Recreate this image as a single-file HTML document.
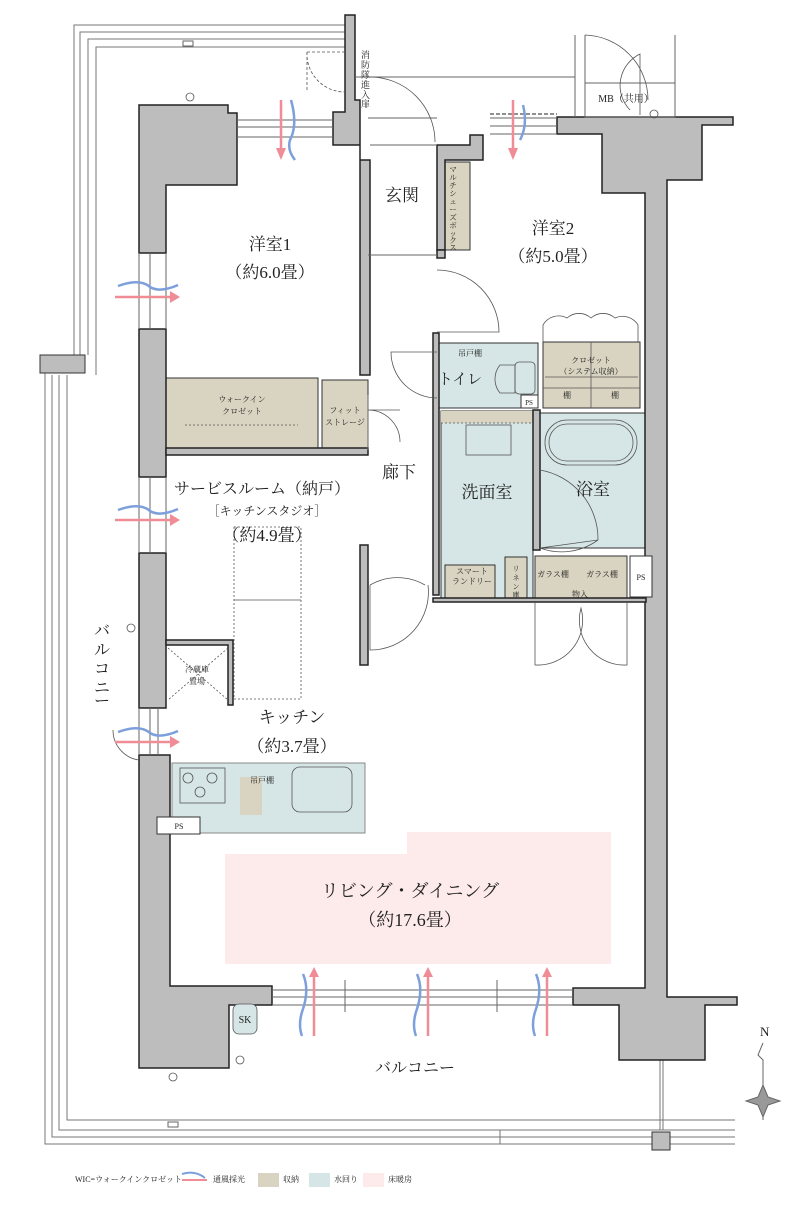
<!DOCTYPE html>
<html><head><meta charset="utf-8"><style>
body{margin:0;background:#fff}
svg{display:block}
text{font-family:"Liberation Serif","Noto Serif CJK SC",serif;fill:#222}
</style></head><body>
<svg width="800" height="1214" viewBox="0 0 800 1214" xmlns="http://www.w3.org/2000/svg">
<g fill="none" stroke="#777" stroke-width="1">
<path d="M345 25 H74 V355 M345 32 H80 V355 M345 39 H88 V355 M345 47 H96 V375"/>
<path d="M45 365 V1144 H735 M52 375 V1137 H735 M59 375 V1130 H735 M67 375 V1120 H735"/>
<path d="M500 1130 V1144"/>
<path d="M660 1005 V1130 M663 1005 V1130"/>
</g>
<rect x="40" y="355" width="45" height="18" fill="#bdbdbd" stroke="#333"/>
<rect x="652" y="1132" width="18" height="18" fill="#bdbdbd" stroke="#333"/>
<rect x="183" y="41" width="10" height="5" fill="none" stroke="#666"/>
<rect x="168" y="1122" width="10" height="5" fill="none" stroke="#666"/>
<rect x="166" y="378" width="152" height="70" fill="#d9d4c1" stroke="#333"/>
<rect x="322" y="380" width="46" height="68" fill="#d9d4c1" stroke="#333"/>
<rect x="437" y="162" width="33" height="88" fill="#d9d4c1" stroke="#333"/>
<rect x="543" y="342" width="97" height="66" fill="#d9d4c1" stroke="#333"/>
<rect x="437" y="343" width="101" height="65" fill="#d6e6e6" stroke="#333"/>
<rect x="441" y="411" width="92" height="188" fill="#d6e6e6" stroke="#333"/>
<rect x="441" y="411" width="92" height="12" fill="#d9d4c1"/>
<rect x="540" y="413" width="105" height="135" fill="#d6e6e6" stroke="#333"/>
<rect x="172" y="763" width="193" height="70" fill="#d6e6e6" stroke="#888"/>
<rect x="240" y="777" width="22" height="38" fill="#d9d4c1"/>
<rect x="445" y="565" width="50" height="33" fill="#d9d4c1" stroke="#333"/>
<rect x="505" y="557" width="22" height="42" fill="#d9d4c1" stroke="#333"/>
<rect x="535" y="556" width="92" height="44" fill="#d9d4c1" stroke="#333"/>
<path d="M225 854 H407 V832 H611 V964 H225Z" fill="#fdeaea"/>
<g fill="#bdbdbd" stroke="#222" stroke-width="1.5">
<path d="M139 105 H228 V113 H237 V185 H166 V253 H139Z"/>
<rect x="139" y="329" width="27" height="148"/>
<rect x="139" y="553" width="27" height="155"/>
<path d="M139 755 H170 V986 H272 V1005 H229 V1068 H139Z"/>
<path d="M333 112 H345 V15 H355 V100 H360 V160 H370 V375 H360 V145 H333Z"/>
<path d="M437 145 H470 V135 H483 V160 H445 V250 H437Z"/>
<path d="M557 117 H733 V125 H702 V180 H667 V997 H737 V1005 H705 V1060 H619 V1005 H573 V988 H645 V193 H602 V134 H557Z"/>
<rect x="166" y="448" width="202" height="7"/>
<rect x="437" y="250" width="8" height="8"/>
<rect x="433" y="333" width="6" height="262"/>
<rect x="533" y="410" width="7" height="140"/>
<rect x="360" y="545" width="8" height="120"/>
<rect x="433" y="598" width="213" height="4"/>
<path d="M166 640 H233 V705 H228 V645 H166Z"/>
</g>
<g fill="none" stroke="#666">
<path d="M237 120 H333 M237 127 H333 M237 137 H333"/>
<path d="M490 118 H557 M490 126 H557 M490 134 H557"/>
<path stroke="#222" stroke-dasharray="4 2" d="M490 114 H557"/>
<path d="M139 253 V329 M150 253 V329 M166 253 V329 M139 477 V553 M150 477 V553 M166 477 V553 M139 708 V755 M150 708 V755 M158 708 V755"/>
<path d="M272 990 H573 M272 997 H573 M272 1005 H573"/>
<path d="M345 980 V1012 M497 980 V1012"/>
<path d="M368 118 H437 M370 145 H437"/>
<path d="M355 77 H575 M575 35 V117"/>
<rect x="585" y="83" width="90" height="34"/>
<path d="M585 35 V83 M675 35 V83"/>
<path d="M368 395 V450 M368 255 H437"/>
</g>
<g fill="none" stroke="#555" stroke-width="0.8">
<path d="M370 77 A65 65 0 0 1 435 142"/>
<path d="M307 52 V92 M307 52 H345 M307 52 A38 38 0 0 0 345 92" stroke-dasharray="3 2"/>
<path d="M437 270 A62 62 0 0 1 499 332 H437"/>
<path d="M437 352 H391 A46 46 0 0 0 437 398"/>
<path d="M368 410 H400 M368 410 A32 32 0 0 1 400 442"/>
<path d="M370 585 A55 55 0 0 1 425 585 M370 585 V650 A58 58 0 0 0 428 585"/>
<path d="M540 548 A62 62 0 0 0 598 540 M540 548 L598 540 M540 470 A70 70 0 0 1 598 540"/>
<path d="M535 602 V665 A45 45 0 0 0 581 608 A45 45 0 0 0 627 665 V602"/>
<path d="M543 342 V325 A18 18 0 0 1 567 318 A18 18 0 0 1 591 318 A18 18 0 0 1 615 318 A18 18 0 0 1 638 325 V342"/>
<path d="M640 115 V54 A35 35 0 0 0 630 110"/>
<path d="M585 35 A65 65 0 0 1 648 100"/>
<path d="M113 730 A30 30 0 0 0 139 760"/>
</g>
<g fill="none" stroke="#555" stroke-width="0.8">
<rect x="545" y="420" width="92" height="45" rx="22"/>
<rect x="549" y="424" width="84" height="37" rx="18"/>
<rect x="466" y="425" width="45" height="30"/>
<path d="M441 423 H533" stroke-dasharray="2 2"/>
<path d="M500 365 A22 22 0 0 0 500 393 H515 V365Z"/>
<rect x="515" y="362" width="20" height="32" rx="4"/>
<rect x="180" y="768" width="45" height="35"/>
<circle cx="188" cy="778" r="5"/><circle cx="212" cy="778" r="5"/><circle cx="200" cy="792" r="5"/>
<rect x="292" y="767" width="60" height="45" rx="8"/>
<rect x="234" y="527" width="67" height="172" stroke-dasharray="2 2"/>
<path d="M234 600 H301"/>
<path d="M168 648 L228 700 M228 648 L168 700" stroke-dasharray="2 2"/>
<path d="M545 377 H638 M591 342 V408 M543 388 H640" />
<path d="M185 425 H298" stroke-dasharray="2 2"/>
<rect x="233" y="1004" width="24" height="30" rx="6" fill="#d6e6e6"/>
<circle cx="190" cy="97" r="4"/><circle cx="654" cy="114" r="4"/><circle cx="131" cy="628" r="4"/>
<circle cx="240" cy="1060" r="4"/><circle cx="173" cy="1077" r="4"/>
</g>
<rect x="157" y="817" width="43" height="17" fill="#fff" stroke="#333"/>
<rect x="630" y="556" width="22" height="41" fill="#fff" stroke="#333"/>
<rect x="521" y="395" width="17" height="13" fill="#fff" stroke="#333"/>
<g stroke-width="2.5" fill="none">
<path d="M115 297 H170" stroke="#f08c96"/><path d="M118 286 Q140 278 150 287 Q160 293 178 285" stroke="#7da0dc"/>
<path d="M115 520 H170" stroke="#f08c96"/><path d="M118 510 Q140 502 150 511 Q160 517 178 509" stroke="#7da0dc"/>
<path d="M115 742 H170" stroke="#f08c96"/><path d="M118 732 Q140 724 150 733 Q160 739 178 731" stroke="#7da0dc"/>
<path d="M281 100 V150" stroke="#f08c96"/><path d="M291 100 Q298 125 290 140 Q287 150 295 160" stroke="#7da0dc"/>
<path d="M513 100 V150" stroke="#f08c96"/><path d="M523 105 Q528 125 520 140" stroke="#7da0dc"/>
<path d="M314 975 V1036" stroke="#f08c96"/><path d="M303 974 Q310 990 302 1012 Q298 1025 302 1036" stroke="#7da0dc"/>
<path d="M428 975 V1036" stroke="#f08c96"/><path d="M417 974 Q424 990 416 1012 Q412 1025 416 1036" stroke="#7da0dc"/>
<path d="M547 975 V1036" stroke="#f08c96"/><path d="M536 974 Q543 990 535 1012 Q531 1025 535 1036" stroke="#7da0dc"/>
</g>
<g fill="#f08c96">
<path d="M170 291 L180 297 L170 303Z"/><path d="M170 514 L180 520 L170 526Z"/><path d="M170 736 L180 742 L170 748Z"/>
<path d="M276 148 L281 160 L286 148Z"/><path d="M508 148 L513 160 L518 148Z"/>
<path d="M309 977 L314 967 L319 977Z"/><path d="M423 977 L428 967 L433 977Z"/><path d="M542 977 L547 967 L552 977Z"/>
</g>
<g stroke="#666" fill="#999">
<path d="M763 1043 L758 1055 L763 1060 V1120" fill="none"/>
<path d="M763 1085 L768 1097 L780 1101 L768 1105 L763 1117 L758 1105 L746 1101 L758 1097Z"/>
</g>
<text x="270" y="250" font-size="17" text-anchor="middle">洋室1</text>
<text x="270" y="278" font-size="17" text-anchor="middle">（約6.0畳）</text>
<text x="402" y="201" font-size="17" text-anchor="middle">玄関</text>
<text x="553" y="234" font-size="17" text-anchor="middle">洋室2</text>
<text x="553" y="262" font-size="17" text-anchor="middle">（約5.0畳）</text>
<text x="399" y="478" font-size="17" text-anchor="middle">廊下</text>
<text x="487" y="498" font-size="17" text-anchor="middle">洗面室</text>
<text x="593" y="495" font-size="17" text-anchor="middle">浴室</text>
<text x="262" y="494" font-size="16" text-anchor="middle">サービスルーム（納戸）</text>
<text x="267" y="515" font-size="12" text-anchor="middle">［キッチンスタジオ］</text>
<text x="267" y="541" font-size="17" text-anchor="middle">（約4.9畳）</text>
<text x="292" y="723" font-size="17" text-anchor="middle">キッチン</text>
<text x="292" y="752" font-size="17" text-anchor="middle">（約3.7畳）</text>
<text x="410" y="897" font-size="18" text-anchor="middle">リビング・ダイニング</text>
<text x="410" y="926" font-size="18" text-anchor="middle">（約17.6畳）</text>
<text x="415" y="1073" font-size="16" text-anchor="middle">バルコニー</text>
<text x="460" y="384" font-size="15" text-anchor="middle">トイレ</text>
<g font-size="16"><text x="94" y="636">バ</text><text x="94" y="655">ル</text><text x="94" y="674">コ</text><text x="94" y="693">ニ</text><text x="94" y="706">ー</text></g>
<g font-size="8" text-anchor="middle">
<text x="242" y="402">ウォークイン</text><text x="242" y="414">クロゼット</text>
<text x="345" y="413">フィット</text><text x="345" y="425">ストレージ</text>
<text x="591" y="363">クロゼット</text><text x="591" y="374">（システム収納）</text>
<text x="567" y="398">棚</text><text x="615" y="398">棚</text>
<text x="470" y="356">吊戸棚</text>
<text x="529" y="405" font-size="7">PS</text>
<text x="472" y="574">スマート</text><text x="472" y="584">ランドリー</text>
<text x="553" y="577">ガラス棚</text><text x="602" y="577">ガラス棚</text>
<text x="580" y="597">物入</text>
<text x="641" y="580">PS</text>
<text x="179" y="829">PS</text>
<text x="197" y="672">冷蔵庫</text><text x="197" y="684">置場</text>
<text x="262" y="783">吊戸棚</text>
<text x="626" y="102" font-size="10">MB（共用）</text>
<text x="245" y="1023" font-size="10">SK</text>
</g>
<g font-size="7" text-anchor="middle">
<text x="516" y="571">リ</text><text x="516" y="580">ネ</text><text x="516" y="589">ン</text><text x="516" y="597">庫</text>
</g>
<g font-size="9">
<text x="361" y="58">消</text><text x="361" y="68">防</text><text x="361" y="78">隊</text><text x="361" y="88">進</text><text x="361" y="98">入</text><text x="361" y="107">扉</text>
</g>
<g font-size="7.5" text-anchor="middle">
<text x="453" y="172">マ</text><text x="453" y="180">ル</text><text x="453" y="188">チ</text><text x="453" y="196">シ</text><text x="453" y="204">ュ</text><text x="453" y="212">ー</text><text x="453" y="220">ズ</text><text x="453" y="228">ボ</text><text x="453" y="236">ッ</text><text x="453" y="243">ク</text><text x="453" y="250">ス</text>
</g>
<text x="760" y="1036" font-size="13">N</text>
<g font-size="8">
<text x="75" y="1182">WIC=ウォークインクロゼット</text>
<path d="M182 1174 Q195 1170 205 1178" stroke="#7da0dc" stroke-width="2" fill="none"/>
<path d="M182 1180 H207" stroke="#f08c96" stroke-width="2"/>
<text x="213" y="1182">通風採光</text>
<rect x="258" y="1173" width="21" height="14" fill="#d9d4c1"/><text x="283" y="1182">収納</text>
<rect x="309" y="1173" width="21" height="14" fill="#d6e6e6"/><text x="334" y="1182">水回り</text>
<rect x="363" y="1173" width="21" height="14" fill="#fdeaea"/><text x="388" y="1182">床暖房</text>
</g>
</svg>
</body></html>
